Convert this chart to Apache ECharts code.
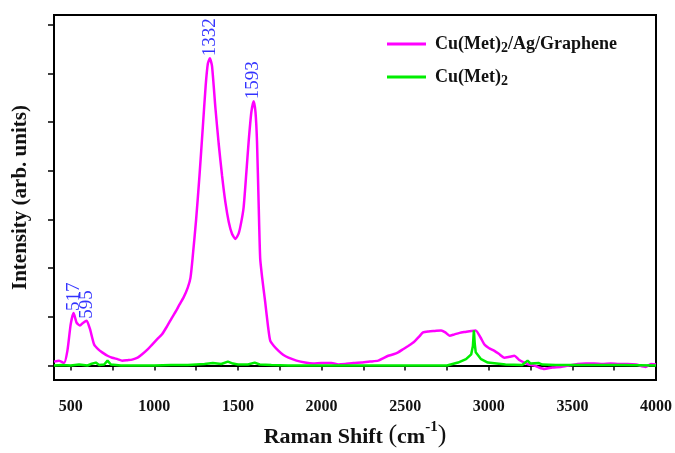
<!DOCTYPE html>
<html><head><meta charset="utf-8">
<script src="https://cdn.jsdelivr.net/npm/echarts@6/dist/echarts.min.js"></script>
<style>html,body{margin:0;padding:0;background:#fff}#c{width:675px;height:453px}</style>
</head><body><div id="c"></div>
<script>
var magX = [400,430,460,480,500,517,535,555,575,595,615,640,665,688,720,748,780,808,840,867,900,927,960,987,1020,1046,1075,1105,1130,1150,1175,1200,1216,1230,1250,1270,1290,1307,1320,1332,1345,1365,1385,1405,1425,1445,1465,1485,1505,1520,1534,1550,1564,1580,1594,1605,1614,1624,1633,1645,1663,1680,1693,1715,1743,1770,1802,1850,1901,1950,2000,2060,2100,2141,2190,2240,2290,2339,2370,2399,2430,2458,2490,2518,2540,2558,2585,2607,2640,2677,2715,2740,2766,2795,2826,2860,2895,2922,2950,2974,3000,3034,3060,3093,3125,3153,3180,3212,3240,3272,3300,3332,3380,3431,3480,3530,3580,3630,3680,3729,3780,3829,3880,3938,3970,4000];
var magY = [0.08,0.10,0.05,0.3,0.85,1.08,0.88,0.82,0.88,0.92,0.75,0.43,0.33,0.27,0.2,0.16,0.13,0.10,0.11,0.12,0.16,0.23,0.33,0.43,0.55,0.64,0.8,0.98,1.12,1.25,1.4,1.6,1.8,2.25,3.0,3.9,4.9,5.75,6.2,6.31,6.15,5.3,4.55,3.9,3.35,2.95,2.7,2.6,2.72,2.95,3.25,3.95,4.6,5.2,5.43,5.2,4.6,3.3,2.2,1.8,1.3,0.8,0.51,0.4,0.3,0.22,0.16,0.1,0.06,0.04,0.05,0.05,0.02,0.03,0.05,0.06,0.08,0.1,0.15,0.2,0.23,0.27,0.34,0.4,0.45,0.5,0.6,0.68,0.7,0.71,0.72,0.68,0.61,0.64,0.67,0.69,0.71,0.72,0.58,0.43,0.36,0.3,0.24,0.16,0.18,0.2,0.12,0.06,0.02,0.0,-0.04,-0.07,-0.04,-0.03,0.0,0.03,0.04,0.04,0.03,0.04,0.03,0.03,0.02,-0.03,0.03,0.02];
var grnX = [400,450,500,550,600,620,650,670,700,720,740,800,900,1000,1100,1200,1300,1350,1400,1440,1470,1500,1560,1600,1630,1700,1800,2000,2200,2400,2600,2750,2816,2864,2895,2905,2911,2916,2922,2954,2994,3100,3200,3232,3250,3300,3320,3400,3600,3800,4000];
var grnY = [0.0,0.01,0.0,0.02,0.0,0.03,0.06,0.01,0.02,0.1,0.02,0.0,0.0,0.0,0.01,0.01,0.03,0.05,0.03,0.08,0.04,0.02,0.02,0.06,0.02,0.01,0.0,0.0,0.0,0.0,0.0,0.0,0.06,0.13,0.23,0.4,0.72,0.45,0.27,0.13,0.06,0.02,0.01,0.1,0.04,0.05,0.02,0.01,0.01,0.01,0.0];
var peakX = [517,595,1332,1593];
var peakY = [1.08,0.92,6.31,5.43];
var xLabels = [500,1000,1500,2000,2500,3000,3500,4000];
var xTicks = [500,750,1000,1250,1500,1750,2000,2250,2500,2750,3000,3250,3500,3750,4000];
var yTicks = [0,1,2,3,4,5,6,7];
var seriesNames = ['Cu(Met)2/Ag/Graphene','Cu(Met)2'];

function zip(a,b){return a.map(function(v,i){return [v,b[i]];});}
var FONT = 'Liberation Serif';
var chart = echarts.init(document.getElementById('c'));
chart.setOption({
  animation:false,
  backgroundColor:'#fff',
  grid:{left:54,right:17,top:15,bottom:70,show:true,borderColor:'#000',borderWidth:2},
  legend:{
    orient:'vertical', left:382, top:27, itemGap:10,
    itemWidth:39, itemHeight:3, icon:'rect',
    data:seriesNames,
    formatter:function(n){
      if(n==='Cu(Met)2') return '{a0|Cu(Met)}{s|2}';
      return '{a0|Cu(Met)}{s|2}{a|/Ag/Graphene}';
    },
    textStyle:{
      fontFamily:FONT, fontWeight:'bold', color:'#111', fontSize:18,
      rich:{
        a0:{fontFamily:FONT,fontWeight:'bold',fontSize:18,color:'#111',lineHeight:22,verticalAlign:'middle',padding:[0,0,0,4]},
        a:{fontFamily:FONT,fontWeight:'bold',fontSize:18,color:'#111',lineHeight:22,verticalAlign:'middle'},
        s:{fontFamily:FONT,fontWeight:'bold',fontSize:14,color:'#111',lineHeight:22,verticalAlign:'bottom',padding:[9,0,0,0]}
      }
    }
  },
  xAxis:{
    type:'value', min:400, max:4000,
    name:'{a|Raman Shift }{p|(}{a|cm}{u|-1}{p|)}',
    nameLocation:'middle', nameGap:38,
    nameTextStyle:{
      rich:{
        a:{fontFamily:FONT,fontWeight:'bold',fontSize:22,color:'#111',verticalAlign:'bottom',lineHeight:28},
        p:{fontFamily:FONT,fontSize:26,color:'#111',verticalAlign:'bottom',lineHeight:28},
        u:{fontFamily:FONT,fontWeight:'bold',fontSize:15,color:'#111',verticalAlign:'top',lineHeight:28,padding:[0,0,12,0]}
      }
    },
    axisLine:{lineStyle:{color:'#000',width:2}},
    axisTick:{show:true,inside:false,length:5,customValues:xTicks,lineStyle:{color:'#000',width:1.5}},
    axisLabel:{customValues:xLabels,formatter:function(v){return String(v);},fontFamily:FONT,fontWeight:'bold',fontSize:16,color:'#111',margin:19},
    splitLine:{show:false}
  },
  yAxis:{
    type:'value', min:-0.3, max:7.2,
    name:'Intensity (arb. units)',
    nameLocation:'middle', nameGap:23,
    nameTextStyle:{fontFamily:FONT,fontWeight:'bold',fontSize:21,color:'#111'},
    axisLine:{lineStyle:{color:'#000',width:2}},
    axisTick:{show:true,inside:false,length:6,customValues:yTicks,lineStyle:{color:'#000',width:1.5}},
    axisLabel:{show:false},
    splitLine:{show:false}
  },
  series:[
    {name:seriesNames[0],type:'line',data:zip(magX,magY),showSymbol:false,symbol:'none',smooth:0.2,
     lineStyle:{color:'#ff00ff',width:2.5},itemStyle:{color:'#ff00ff'},z:3},
    {name:seriesNames[1],type:'line',data:zip(grnX,grnY),showSymbol:false,symbol:'none',
     lineStyle:{color:'#00ee00',width:2.5},itemStyle:{color:'#00ee00'},z:4},
    {type:'scatter',data:zip(peakX,peakY),symbolSize:0,silent:true,
     label:{show:true,position:'top',distance:2,rotate:90,align:'left',verticalAlign:'middle',
       formatter:function(p){return String(p.value[0]);},
       fontFamily:FONT,fontSize:19,color:'#0000ff'}}
  ]
});
</script></body></html>
